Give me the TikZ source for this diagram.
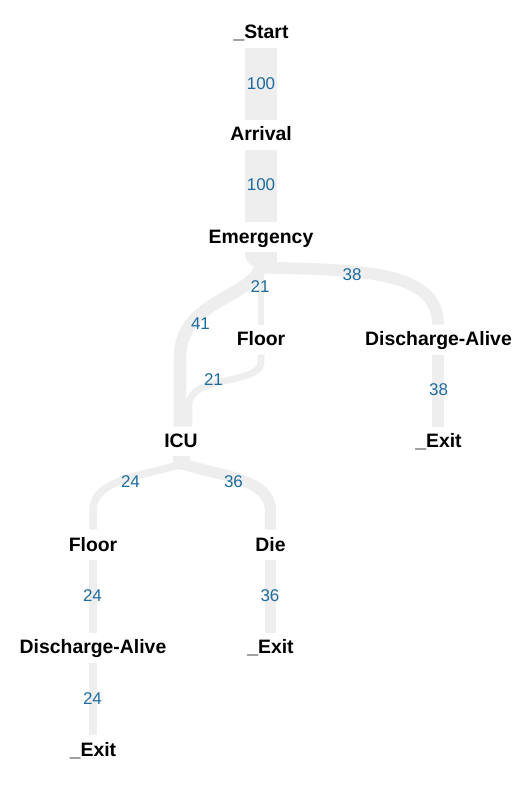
\documentclass[tikz,border=0pt]{standalone}
\usepackage{fontspec}
\setmainfont{Liberation Sans}
\usetikzlibrary{calc}
\definecolor{bandgray}{RGB}{238,238,238}
\definecolor{lblblue}{RGB}{30,108,158}
\begin{document}
\begin{tikzpicture}[x=1pt,y=-1pt,
  state/.style={font=\bfseries\fontsize{19.4}{22}\selectfont, inner sep=0pt, anchor=base},
  count/.style={font=\fontsize{17}{20}\selectfont, text=lblblue, inner sep=0pt, anchor=base},
  band/.style={draw=bandgray, line cap=butt},
  w100/.style={band, line width=31.6pt},
  w41/.style={band, line width=12.7pt},
  w38/.style={band, line width=11.8pt},
  w36/.style={band, line width=11.2pt},
  w24/.style={band, line width=7.5pt},
  w21/.style={band, line width=6.8pt}]
\useasboundingbox (0,0) rectangle (532,798);

% states
\node[state] (start) at (261,38.5) {\_Start};
\node[state] (arr) at (261,140.5) {Arrival};
\node[state] (em) at (261,243) {Emergency};
\node[state] (fl1) at (261,345.5) {Floor};
\node[state] (da1) at (438.5,345.5) {Discharge-Alive};
\node[state] (icu) at (181,447.5) {ICU};
\node[state] (ex1) at (438.5,447.5) {\_Exit};
\node[state] (fl2) at (93,551) {Floor};
\node[state] (die) at (270.5,551) {Die};
\node[state] (da2) at (93,653.5) {Discharge-Alive};
\node[state] (ex2) at (270.5,653.5) {\_Exit};
\node[state] (ex3) at (93,756) {\_Exit};

% bands
\draw[w100] ($(start.base)+(0,9)$) -- ($(arr.base)+(0,-21)$);
\draw[w100] ($(arr.base)+(0,9)$) -- ($(em.base)+(0,-21)$);

\fill[bandgray] ($(em.base)+(-16,9)$) -- ($(em.base)+(15.8,9)$) -- ($(em.base)+(15.8,24)$)
  -- ($(em.base)+(-3,24)$) .. controls ($(em.base)+(-11,24)$) and ($(em.base)+(-16,18)$)
  .. ($(em.base)+(-16,10)$) -- cycle;

\draw[w21] ($(em.base)+(0,9)$) -- ($(fl1.base)+(0,-21)$);
\draw[w41] ($(em.base)+(1,19)$) .. controls ($(em.base)+(-3,55)$) and ($(icu.base)+(-1,-150)$)
  .. ($(icu.base)+(-1,-90)$) -- ($(icu.base)+(-1,-21)$);
\draw[w38] ($(em.base)+(0,24.5)$) .. controls ($(em.base)+(99,27)$) and ($(da1.base)+(-0.5,-75.5)$)
  .. ($(da1.base)+(-0.5,-21)$);
\draw[w21] ($(fl1.base)+(0,9)$) -- ($(fl1.base)+(0,16.5)$) .. controls ($(fl1.base)+(0,39.5)$)
  and ($(icu.base)+(8,-72.5)$) .. ($(icu.base)+(8,-42.5)$) -- ($(icu.base)+(8,-21)$);
\draw[w38] ($(da1.base)+(-0.5,9)$) -- ($(ex1.base)+(-0.5,-21)$);

\fill[bandgray] ($(icu.base)+(-8,8.5)$) {[rounded corners=6pt] -- ($(icu.base)+(-8,22)$)
  -- ($(icu.base)+(9,22)$)} -- ($(icu.base)+(9,8.5)$) -- cycle;
\draw[w24] ($(icu.base)+(0,16.5)$) .. controls ($(icu.base)+(-31,27.5)$) and ($(fl2.base)+(0,-73)$)
  .. ($(fl2.base)+(0,-41)$) -- ($(fl2.base)+(0,-21.5)$);
\draw[w36] ($(icu.base)+(2,16.5)$) .. controls ($(icu.base)+(34,27.5)$) and ($(die.base)+(0,-73)$)
  .. ($(die.base)+(0,-41)$) -- ($(die.base)+(0,-21.5)$);
\draw[w24] ($(fl2.base)+(0,9)$) -- ($(da2.base)+(0,-21)$);
\draw[w36] ($(die.base)+(0,9)$) -- ($(ex2.base)+(0,-21)$);
\draw[w24] ($(da2.base)+(0,9)$) -- ($(ex3.base)+(0,-21)$);

% counts
\node[count] (c1) at (261,89.1) {100};
\node[count] (c2) at (261,190.6) {100};
\node[count] (c3) at (260,292.8) {21};
\node[count] (c4) at (200.5,329.1) {41};
\node[count] (c5) at (352,280.1) {38};
\node[count] (c6) at (213.5,385.1) {21};
\node[count] (c7) at (438.5,395.6) {38};
\node[count] (c8) at (130.5,487.1) {24};
\node[count] (c9) at (233.5,487.1) {36};
\node[count] (c10) at (92.5,601.6) {24};
\node[count] (c11) at (270,601.6) {36};
\node[count] (c12) at (92.5,704.1) {24};
\end{tikzpicture}
\end{document}
